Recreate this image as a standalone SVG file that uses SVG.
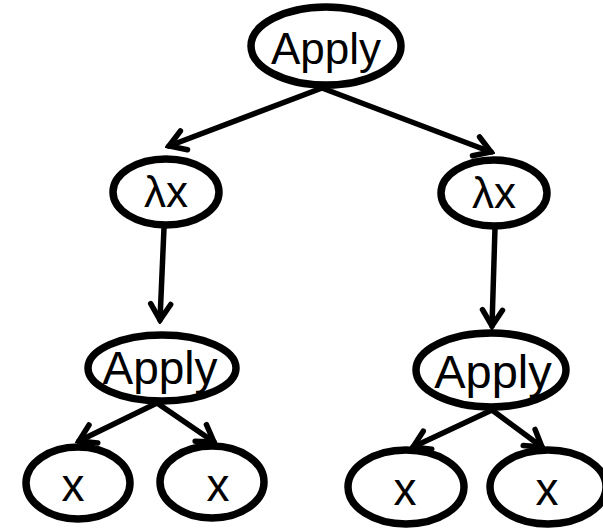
<svg xmlns="http://www.w3.org/2000/svg" width="603" height="529" viewBox="0 0 603 529">
<defs>
<marker id="arr" markerUnits="userSpaceOnUse" viewBox="-22 -14 26 28" refX="0" refY="0" markerWidth="26" markerHeight="28" orient="auto">
<path d="M -16 -10 L 0 0 L -16 10" fill="none" stroke="#000" stroke-width="5.5" stroke-linecap="round" stroke-linejoin="miter"/>
</marker>
<style>
.n{fill:#fff;stroke:#000;stroke-width:7.5}
.t{font-family:"Liberation Sans",Arial,sans-serif;fill:#000;text-anchor:middle}
.e{stroke:#000;stroke-width:5.5;fill:none;stroke-linecap:round;marker-end:url(#arr)}
</style>
</defs>
<rect width="603" height="529" fill="#fff"/>
<g id="connectors">
<line class="e" x1="322" y1="88" x2="169" y2="146"/>
<line class="e" x1="322" y1="88" x2="491" y2="152"/>
<line class="e" x1="164" y1="228" x2="160" y2="320"/>
<line class="e" x1="495" y1="228" x2="492" y2="326"/>
<line class="e" x1="157" y1="403" x2="79" y2="441"/>
<line class="e" x1="157" y1="403" x2="214" y2="442"/>
<line class="e" x1="492" y1="410" x2="413" y2="447"/>
<line class="e" x1="492" y1="410" x2="542" y2="447"/>
</g>
<g id="n1"><ellipse class="n" cx="326" cy="46" rx="75" ry="39"/><text class="t" x="326" y="64" font-size="44">Apply</text></g>
<g id="n2"><ellipse class="n" cx="166" cy="192" rx="53" ry="33"/><text class="t" x="166" y="207" font-size="44">λx</text></g>
<g id="n3"><ellipse class="n" cx="494" cy="193" rx="53" ry="33"/><text class="t" x="494" y="208" font-size="44">λx</text></g>
<g id="n4"><ellipse class="n" cx="162" cy="368" rx="74" ry="33"/><text class="t" x="160" y="384" font-size="46">Apply</text></g>
<g id="n5"><ellipse class="n" cx="491" cy="370" rx="75" ry="37"/><text class="t" x="493" y="388" font-size="47">Apply</text></g>
<g id="n6"><ellipse class="n" cx="78" cy="483" rx="52" ry="36"/><text class="t" x="73" y="501" font-size="46">x</text></g>
<g id="n7"><ellipse class="n" cx="212" cy="482" rx="52" ry="36"/><text class="t" x="218" y="501" font-size="46">x</text></g>
<g id="n8"><ellipse class="n" cx="406" cy="487" rx="58" ry="37"/><text class="t" x="405" y="505" font-size="46">x</text></g>
<g id="n9"><ellipse class="n" cx="548" cy="487" rx="58" ry="37"/><text class="t" x="547" y="505" font-size="46">x</text></g>
</svg>
